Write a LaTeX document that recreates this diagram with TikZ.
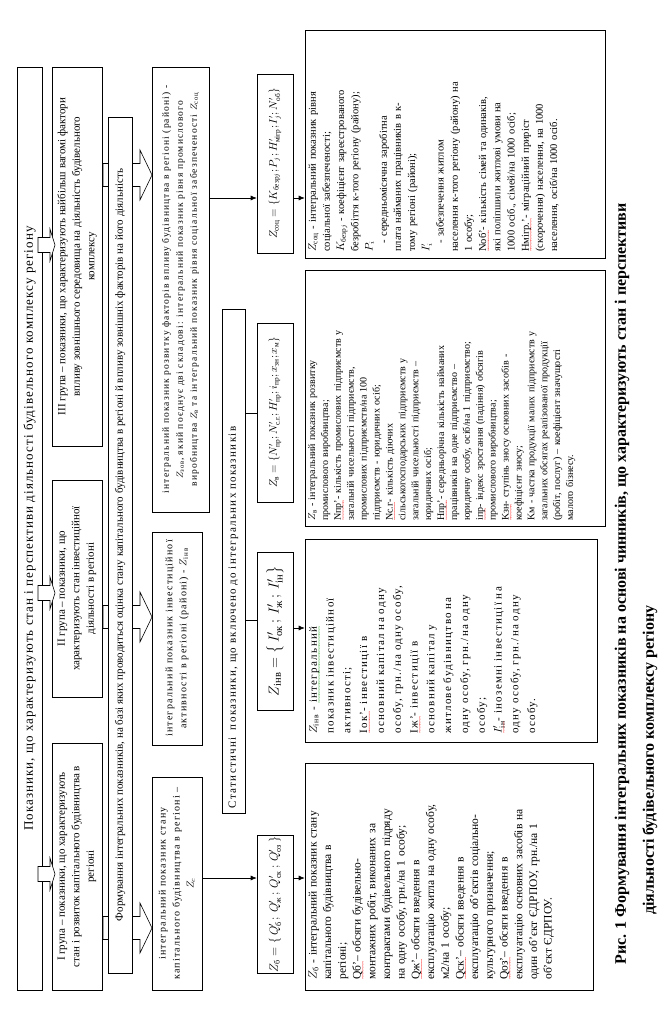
\documentclass[tikz,border=0pt]{standalone}
\usepackage{fontspec}
\usepackage{amsmath}
\setmainfont{Liberation Serif}
\newfontfamily\wide[LetterSpace=12]{Liberation Serif}
\newfontfamily\titlewide[LetterSpace=8]{Liberation Serif}
\usetikzlibrary{arrows.meta,positioning}

% justified line of a given width
\newcommand\jl[1]{\makebox[\hsize][s]{#1}}
% spell-check waves
\newcommand\wavy[2]{\leavevmode\setbox0\hbox{#2}\rlap{\raisebox{-4.2pt}[0pt][0pt]{\textcolor{#1}{\hbox to\wd0{\fontsize{6}{6}\selectfont\xleaders\hbox{\kern-0.3pt\textasciitilde\kern-0.3pt}\hfill}}}}\box0}
\newcommand\redw[1]{\wavy{red}{#1}}
\newcommand\grnw[1]{\wavy{green!60!black}{#1}}

\tikzset{
  box/.style={draw, fill=white, rotate=90, inner sep=2pt, align=center},
  frm/.style={draw, fill=white, rotate=90, inner sep=1pt},
  txt/.style={rotate=90, inner sep=0pt, align=left},
  arr/.style={-{Latex[length=6pt,width=5pt]}},
  hollow/.style={draw, fill=white, line join=miter},
}

\begin{document}
\begin{tikzpicture}[x=1pt,y=-1pt,line width=0.6pt]
\useasboundingbox (0,0) rectangle (666,1015);

% big hollow arrows, under the box "Формування"
\foreach \yc in {175,617,928}
  \draw[hollow] (103,\yc-11.5) -- (140,\yc-11.5) -- (140,\yc-25) -- (152,\yc)
    -- (140,\yc+25) -- (140,\yc+11.5) -- (103,\yc+11.5) -- cycle;

% level 1
\node[box, minimum width=923, minimum height=25, font=\fontsize{13}{15}\titlewide] (title)
  at (29.5,528.5) {Показники, що характеризують стан і перспективи діяльності будівельного комплексу регіону};

% groups
\node[box, minimum width=247, minimum height=50, font=\fontsize{11}{14.5}\selectfont] (g1) at (77,866.5)
  {I група – показники, що характеризують\\ стан і розвиток капітального будівництва в\\ регіоні};
\node[box, minimum width=217, minimum height=50, font=\fontsize{11}{14.5}\selectfont] (g2) at (77,588.5)
  {II група – показники, що\\ характеризують стан інвестиційної\\ діяльності в регіоні};
\node[box, minimum width=379, minimum height=50, font=\fontsize{11}{14.5}\selectfont] (g3) at (77,256.5)
  {III група – показники, що характеризують найбільш вагомі фактори\\ впливу зовнішнього середовища на діяльність будівельного\\ комплексу};

\node[box, minimum width=856, minimum height=24, font=\fontsize{11}{13}\selectfont] (form) at (120,545)
  {Формування інтегральних показників, на базі яких проводиться оцінка стану капітального будівництва в регіоні й впливу зовнішніх факторів на його діяльність};

% integral indices
\node[box, minimum width=213, minimum height=50, font=\fontsize{10}{14}\wide] (zcint) at (177,883.5)
  {інтегральний показник стану\\ капітального будівництва в регіоні –\\ \(Z_c\)};
\node[box, minimum width=213, minimum height=50, font=\fontsize{10}{14}\wide] (zinvint) at (177,638.5)
  {інтегральний показник інвестиційної\\ активності в регіоні (районі) - \(Z_{\text{інв}}\)};
\node[box, minimum width=445, minimum height=57, font=\fontsize{9.5}{14}\wide] (zzov) at (180.5,289.5)
  {інтегральний показник розвитку факторів впливу будівництва в регіоні (районі) -\\
   \(Z_{\text{зов}}\), який поєднує дві складові: інтегральний показник рівня промислового\\
   виробництва \(Z_{\text{в}}\) та інтегральний показник рівня соціальної забезпеченості \(Z_{\text{соц}}\)};

\node[box, minimum width=504, minimum height=23, text width=494, align=left, font=\fontsize{11}{13}\wide] (stat)
  at (233.5,561) {Статистичні \ показники, що включено до інтегральних показників};

% formulas
\node[frm, minimum width=125, minimum height=36, font=\fontsize{12}{14}\selectfont] (zcf) at (275,904.5)
  {\(Z_{\text{б}}=\{\,Q'_{\text{б}}\,;\,Q'_{\text{ж}}\,;\,Q'_{\text{ск}}\,;\,Q'_{\text{оз}}\,\}\)};
\node[frm, minimum width=158, minimum height=36, font=\fontsize{15}{17}\selectfont] (zinvf) at (275,631)
  {\(Z_{\text{інв}}=\bigl\{\,I'_{\text{ок}}\,;\,I'_{\text{ж}}\,;\,I'_{\text{ін}}\bigr\}\)};
\node[frm, minimum width=179, minimum height=36, font=\fontsize{10.5}{12}\selectfont] (zvf) at (275,412.5)
  {\(Z_{\text{в}}=\{N'_{\text{пр}};N'_{\text{с.г.}};H'_{\text{пр}};i_{\text{пр}};x_{\text{зн}};x_{\text{м}}\}\)};
\node[frm, minimum width=179, minimum height=36, font=\fontsize{10.5}{12}\selectfont] (zsocf) at (275,163.5)
  {\(Z_{\text{соц}}=\{K_{\text{безр}j};P_j;H'_{\text{мігр}};I'_j;N'_{\text{об}}\}\)};

% description boxes
\node[frm, minimum width=227, minimum height=288] (zcd) at (449,876.5) {};
\node[frm, minimum width=203, minimum height=292] (zinvd) at (451,640.5) {};
\node[frm, minimum width=256, minimum height=300] (zvd) at (455,398) {};
\node[frm, minimum width=228, minimum height=300] (zsocd) at (455,144) {};

\node[txt, anchor=north west, text width=210, font=\fontsize{11.5}{14.7}\selectfont] (zct) at (308,980) {%
\jl{\(Z_{\text{б}}\) - інтегральний показник стану}\\
\jl{капітального будівництва в}\\
регіоні;\\
\jl{\redw{Qб’} – обсяги будівельно-}\\
\jl{монтажних робіт, виконаних за}\\
\jl{контрактами будівельного підряду}\\
на одну особу, грн./на 1 особу;\\
\jl{\redw{Qж’} – обсяги введення в}\\
\jl{експлуатацію житла на одну особу,}\\
м2/на 1 особу;\\
\jl{\redw{Qск’} – обсяги введення в}\\
\jl{експлуатацію об’єктів соціально-}\\
культурного призначення;\\
\jl{\redw{Qоз’} – обсяги введення в}\\
\jl{експлуатацію основних засобів на}\\
\jl{один об’єкт ЄДРПОУ, грн./на 1}\\
об’єкт ЄДРПОУ.};

\node[txt, anchor=north west, text width=190, font=\fontsize{11}{16.8}\wide] (zinvt) at (309,734) {%
\(Z_{\text{інв}}\) - \grnw{інтегральний}\\
показник інвестиційної\\
активності;\\
\redw{Iок’} - інвестиції в\\
основний капітал на одну\\
особу, грн./на одну особу,\\
\redw{Iж’} - інвестиції в\\
основний капітал у\\
житлове будівництво на\\
одну особу, грн./на одну\\
особу;\\
\redw{\(I'_{\text{ін}}\)} - іноземні інвестиції на\\
одну особу, грн./на одну\\
особу.};

\node[txt, anchor=north west, text width=245, font=\fontsize{10}{12.9}\selectfont] (zvt) at (308,521) {%
\(Z_{\text{в}}\) - інтегральний показник розвитку\\
промислового виробництва;\\
\redw{Nпр’} - кількість промислових підприємств у\\
загальній чисельності підприємств,\\
промислових підприємств/на 100\\
підприємств - юридичних осіб;\\
\redw{Nс.г} - кількість діючих\\
сільськогосподарських підприємств у\\
загальній чисельності підприємств –\\
юридичних осіб;\\
\redw{Hпр’} - середньорічна кількість найманих\\
працівників на одне підприємство –\\
юридичну особу, осіб/на 1 підприємство;\\
\redw{iпр} - індекс зростання (падіння) обсягів\\
промислового виробництва;\\
\redw{Kзн} - ступінь зносу основних засобів -\\
коефіцієнт зносу;\\
Kм - частка продукції малих підприємств у\\
загальних обсягах реалізованої продукції\\
(робіт, послуг) – коефіцієнт значущості\\
малого бізнесу.};

\node[txt, anchor=north west, text width=215, font=\fontsize{10.5}{14.2}\selectfont] (zsoct) at (308,252) {%
\(Z_{\text{соц}}\) - інтегральний показник рівня\\
соціальної забезпеченості;\\
\(K_{\text{безр}j}\) - коефіцієнт зареєстрованого\\
безробіття к-того регіону (району);\\
\(P_i\)\\
\hspace*{8pt}- середньомісячна заробітна\\
плата найманих працівників в к-\\
тому регіоні (районі);\\
\(I'_i\)\\
\hspace*{8pt}- забезпечення житлом\\
населення к-того регіону (району) на\\
1 особу;\\
\redw{Nоб’}- кількість сімей та одинаків,\\
які поліпшили житлові умови на\\
1000 осіб., сімей/на 1000 осіб;\\
\redw{Нмігр.’} - міграційний приріст\\
(скорочення) населення, на 1000\\
населення, осіб/на 1000 осіб.};

% caption
\node[txt, anchor=west, font=\bfseries\fontsize{16}{28}\selectfont] (caption) at (636,965)
  {Рис. 1 Формування інтегральних показників на основі чинників, що характеризують стан і перспективи\\
   \hspace*{50pt}діяльності будівельного комплексу регіону};

% small hollow arrows from the title
\foreach \yc in {245,593,874}
  \draw[hollow] (38,\yc-7.5) -- (50,\yc-7.5) -- (50,\yc-16) -- (55,\yc)
    -- (50,\yc+16) -- (50,\yc+7.5) -- (38,\yc+7.5) -- cycle;

% connectors
\coordinate (crow) at (0,878);
\coordinate (statinv) at (0,620);
\coordinate (invrow) at (0,628);
\coordinate (vrow) at (0,413);
\coordinate (socrow) at (0,198);
\draw[arr] (zcint.south |- crow) -- (zcf.north |- crow);
\draw[arr] (zcf.south |- crow) -- (zcd.north |- crow);
\draw (stat.south |- statinv) -- (zinvf.north |- statinv);
\draw[arr] (zinvf.south |- invrow) -- (zinvd.north |- invrow);
\draw (stat.south |- vrow) -- (zvf.north |- vrow);
\draw[arr] (zzov.south |- socrow) -- (zsocf.north |- socrow);
\draw[arr] (zsocf.south |- socrow) -- (zsocd.north |- socrow);

\end{tikzpicture}
\end{document}
